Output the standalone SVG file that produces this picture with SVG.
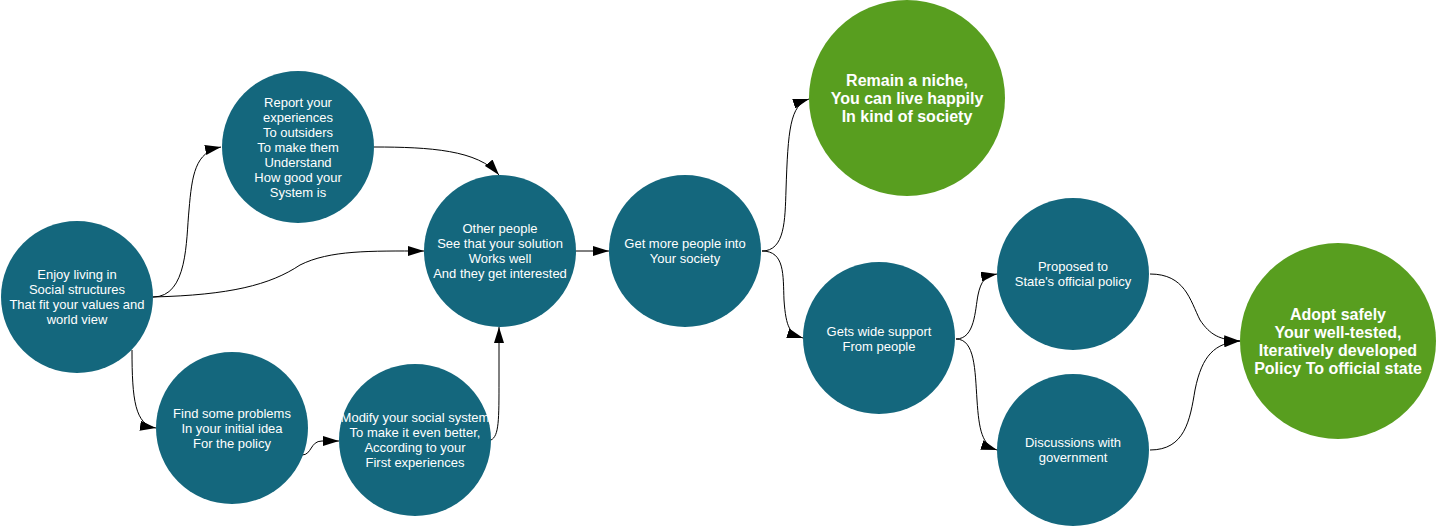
<svg xmlns="http://www.w3.org/2000/svg" width="1437" height="527" viewBox="0 0 1437 527">
<style>
.n{fill:#14677d}
.g{fill:#589e1f}
.t{font-family:"Liberation Sans",Arial,sans-serif;font-size:13px;fill:#ffffff;text-anchor:middle}
.b{font-family:"Liberation Sans",Arial,sans-serif;font-size:16px;font-weight:bold;fill:#ffffff;text-anchor:middle}
.e{fill:none;stroke:#000;stroke-width:1;marker-end:url(#ah)}
</style>
<defs>
<marker id="ah" markerUnits="userSpaceOnUse" markerWidth="16" markerHeight="10" refX="16" refY="5" orient="auto" viewBox="0 0 16 10">
<path d="M0,0 L16,5 L0,10 Z" fill="#000"/>
</marker>
</defs>
<rect width="1437" height="527" fill="#ffffff"/>
<g id="connectors">
<path class="e" d="M153,297 C188,297 186,240 189,210 C192,175 195,152 221,147"/>
<path class="e" d="M374,147 C430,147 478,150 499,175"/>
<path class="e" d="M153,297 C230,295 270,285 300,265 C330,250 370,251 424,251"/>
<path class="e" d="M132,350 C132,400 135,425 156,428"/>
<path class="e" d="M302,455 C312,455 310,441 322,441 L339,441"/>
<path class="e" d="M491,440 C499,436 499,420 499,380 L499,327"/>
<path class="e" d="M576,251 L609,251"/>
<path class="e" d="M762,251 C785,251 785,220 786,190 C788,130 790,105 809,99"/>
<path class="e" d="M762,251 C785,251 783,275 784,300 C786,328 790,334 803,338"/>
<path class="e" d="M956,339 C975,339 975,310 978,295 C981,281 985,276 997,274"/>
<path class="e" d="M956,339 C975,339 975,370 977,400 C979,430 982,445 997,450"/>
<path class="e" d="M1150,274 C1185,274 1190,300 1200,320 C1210,335 1220,340 1240,341"/>
<path class="e" d="M1150,450 C1185,450 1190,420 1195,390 C1202,355 1215,343 1240,341"/>
</g>
<g id="n1"><circle class="n" cx="77" cy="297" r="76"/>
<text class="t"><tspan x="77" y="278.5">Enjoy living in</tspan><tspan x="77" y="293.5">Social structures</tspan><tspan x="77" y="308.5">That fit your values and</tspan><tspan x="77" y="323.5">world view</tspan></text></g>
<g id="n2"><circle class="n" cx="298" cy="147" r="76"/>
<text class="t"><tspan x="298" y="106.5">Report your</tspan><tspan x="298" y="121.5">experiences</tspan><tspan x="298" y="136.5">To outsiders</tspan><tspan x="298" y="151.5">To make them</tspan><tspan x="298" y="166.5">Understand</tspan><tspan x="298" y="181.5">How good your</tspan><tspan x="298" y="196.5">System is</tspan></text></g>
<g id="n3"><circle class="n" cx="232" cy="428" r="76"/>
<text class="t"><tspan x="232" y="418">Find some problems</tspan><tspan x="232" y="433">In your initial idea</tspan><tspan x="232" y="448">For the policy</tspan></text></g>
<g id="n4"><circle class="n" cx="415" cy="440" r="76"/>
<text class="t"><tspan x="415" y="422">Modify your social system</tspan><tspan x="415" y="437">To make it even better,</tspan><tspan x="415" y="452">According to your</tspan><tspan x="415" y="467">First experiences</tspan></text></g>
<g id="n5"><circle class="n" cx="500" cy="251" r="76"/>
<text class="t"><tspan x="500" y="232.5">Other people</tspan><tspan x="500" y="247.5">See that your solution</tspan><tspan x="500" y="262.5">Works well</tspan><tspan x="500" y="277.5">And they get interested</tspan></text></g>
<g id="n6"><circle class="n" cx="685" cy="251" r="76"/>
<text class="t"><tspan x="685" y="247.5">Get more people into</tspan><tspan x="685" y="262.5">Your society</tspan></text></g>
<g id="n7"><circle class="g" cx="907" cy="98" r="98"/>
<text class="b"><tspan x="907" y="86">Remain a niche,</tspan><tspan x="907" y="104">You can live happily</tspan><tspan x="907" y="122">In kind of society</tspan></text></g>
<g id="n8"><circle class="n" cx="879" cy="338" r="76"/>
<text class="t"><tspan x="879" y="335.5">Gets wide support</tspan><tspan x="879" y="350.5">From people</tspan></text></g>
<g id="n9"><circle class="n" cx="1073" cy="274" r="76"/>
<text class="t"><tspan x="1073" y="270.5">Proposed to</tspan><tspan x="1073" y="285.5">State's official policy</tspan></text></g>
<g id="n10"><circle class="n" cx="1073" cy="450" r="76"/>
<text class="t"><tspan x="1073" y="446.5">Discussions with</tspan><tspan x="1073" y="461.5">government</tspan></text></g>
<g id="n11"><circle class="g" cx="1338" cy="341" r="98"/>
<text class="b"><tspan x="1338" y="320">Adopt safely</tspan><tspan x="1338" y="338">Your well-tested,</tspan><tspan x="1338" y="356">Iteratively developed</tspan><tspan x="1338" y="374">Policy To official state</tspan></text></g>
</svg>
